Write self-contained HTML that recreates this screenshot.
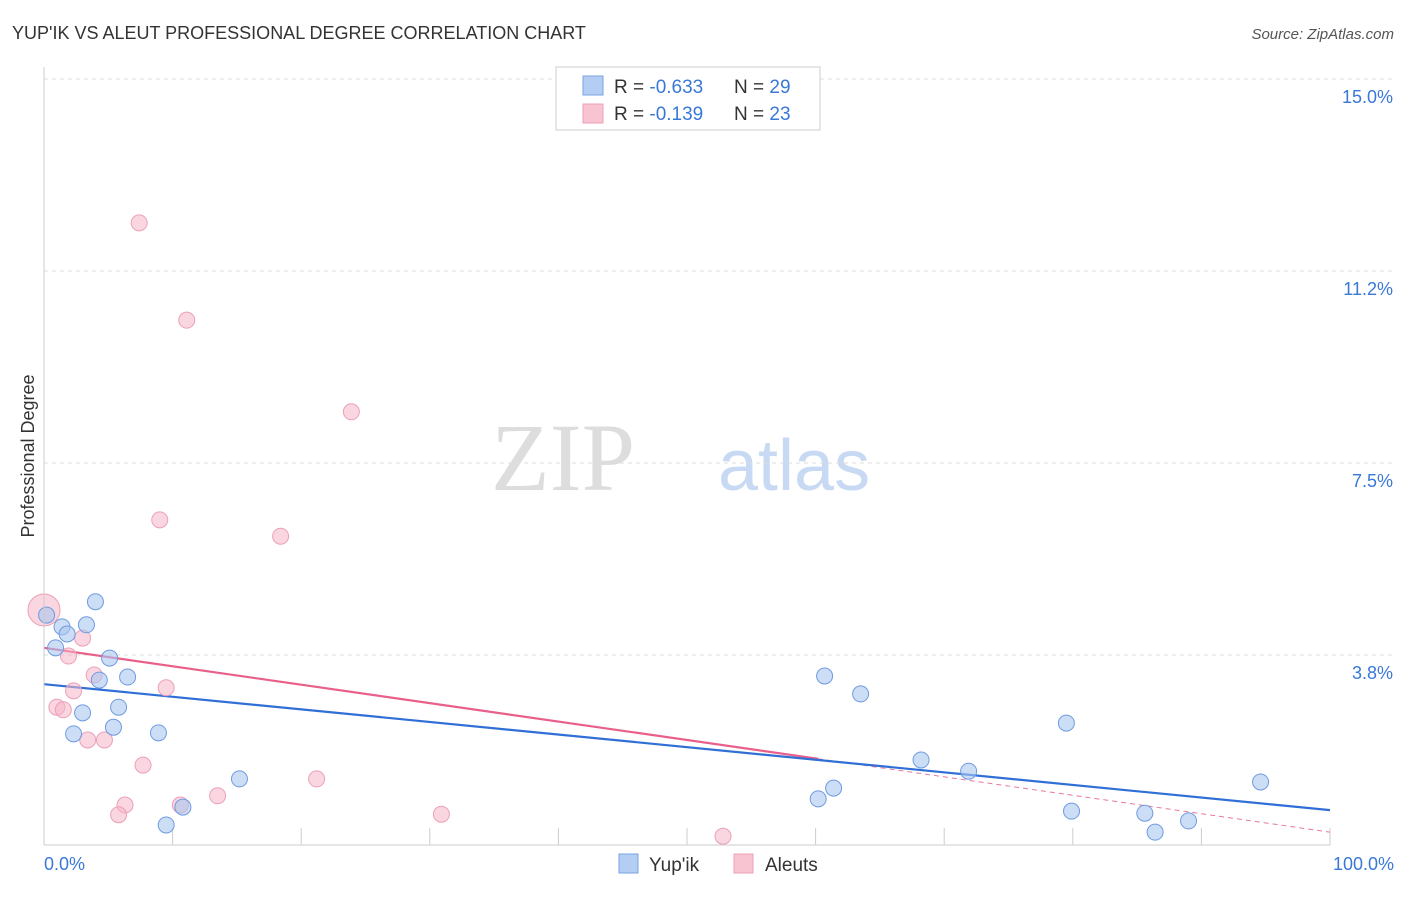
<!DOCTYPE html>
<html><head><meta charset="utf-8"><style>
body{margin:0;background:#fff;font-family:"Liberation Sans",sans-serif;}
</style></head><body>
<svg id="c" width="1406" height="892" xmlns="http://www.w3.org/2000/svg" font-family="Liberation Sans, sans-serif">
<text x="12" y="39" font-size="18" fill="#333">YUP'IK VS ALEUT PROFESSIONAL DEGREE CORRELATION CHART</text>
<text x="1394" y="39" font-size="15" fill="#555" font-style="italic" text-anchor="end">Source: ZipAtlas.com</text>
<text x="635" y="490" font-size="96" fill="#ddd" text-anchor="end" font-family="Liberation Serif, serif">ZIP</text>
<text x="718" y="490" font-size="72" fill="#c8daf3">atlas</text>
<text x="34" y="456" font-size="18" fill="#333" text-anchor="middle" transform="rotate(-90 34 456)">Professional Degree</text>
<g id="grid"></g><g id="trend"></g><g id="pts"></g>
<line x1="44" y1="67" x2="44" y2="845" stroke="#ccc"/>
<line x1="44" y1="845" x2="1330" y2="845" stroke="#ccc"/>
<text x="44" y="870" font-size="18" fill="#3a78d8">0.0%</text>
<text x="1394" y="870" font-size="18" fill="#3a78d8" text-anchor="end">100.0%</text>
<g>
<rect x="556" y="67" width="264" height="63" fill="#fff" stroke="#ccc"/>
<rect x="583" y="76" width="20" height="19" fill="#b4cdf3" stroke="#7aa3e0"/>
<rect x="583" y="104" width="20" height="19" fill="#f9c4d2" stroke="#eda0b6"/>
<text x="614" y="93" font-size="19" fill="#333">R = <tspan fill="#3a78d8">-0.633</tspan><tspan x="734">N = </tspan><tspan fill="#3a78d8">29</tspan></text>
<text x="614" y="120" font-size="19" fill="#333">R = <tspan fill="#3a78d8"> -0.139</tspan><tspan x="734">N = </tspan><tspan fill="#3a78d8">23</tspan></text>
</g>
<g>
<rect x="619" y="854" width="19" height="19" fill="#b4cdf3" stroke="#7aa3e0"/>
<text x="649" y="871" font-size="19" fill="#333">Yup'ik</text>
<rect x="734" y="854" width="19" height="19" fill="#f9c4d2" stroke="#eda0b6"/>
<text x="765" y="871" font-size="19" fill="#333">Aleuts</text>
</g>
</svg>
<script>
const yTicks=[3.8,7.5,11.2,15.0];
const yTickVals=[3.75,7.5,11.25,15.0];
const xTicks=[10,20,30,40,50,60,70,80,90,100];
const blueX=[0.2,0.9,1.4,1.8,3.3,4.0,3.0,2.3,4.3,5.1,5.8,5.4,6.5,8.9,9.5,10.8,15.2,60.2,61.4,60.7,63.5,68.2,71.9,79.5,79.9,85.6,86.4,89.0,94.6];
const blueY=[4.53,3.89,4.30,4.16,4.34,4.79,2.62,2.21,3.26,3.69,2.73,2.34,3.32,2.23,0.43,0.78,1.33,0.94,1.15,3.34,2.99,1.70,1.48,2.42,0.70,0.66,0.29,0.51,1.27];
const pinkX=[0,1.0,1.5,1.9,3.0,2.3,3.4,4.7,3.9,7.4,11.1,23.9,9.0,18.4,9.5,7.7,6.3,5.8,10.6,13.5,21.2,30.9,52.8];
const pinkY=[4.63,2.73,2.68,3.73,4.08,3.05,2.09,2.09,3.36,12.19,10.29,8.50,6.39,6.07,3.11,1.60,0.82,0.63,0.82,1.00,1.33,0.64,0.21];
const blueTrend=[3.18,0.72];
const pinkTrend=[3.89,0.29];
const pinkSolidEnd=60.2;
const NS='http://www.w3.org/2000/svg';
const X=v=>44+v*12.86, Y=v=>847-v*51.2;
function mk(t,a,p){const e=document.createElementNS(NS,t);for(const k in a)e.setAttribute(k,a[k]);document.getElementById(p).appendChild(e);return e;}
yTicks.forEach((t,i)=>{const y=Y(yTickVals[i]);
 const l=mk('line',{x1:44,x2:1394,y1:y,y2:y,stroke:'#ddd','stroke-dasharray':'4,4'},'grid');
 
 
 const tx=mk('text',{x:1393,y:y+24,'font-size':18,fill:'#3a78d8','text-anchor':'end'},'grid');tx.textContent=t.toFixed(1)+'%';
 
 });
xTicks.forEach(t=>{const x=X(t);const l=mk('line',{x1:x,x2:x,y1:828,y2:845,stroke:'#ccc'},'grid');
 
 });
function tl(a,b,x0,x1,col,dash,name){const f=x=>a+(b-a)*x/100;const l=mk('line',{x1:X(x0),y1:Y(f(x0)),x2:X(x1),y2:Y(f(x1)),stroke:col,'stroke-width':dash?1:2.2},'trend');if(dash)l.setAttribute('stroke-dasharray','5,4');
 
 }
tl(pinkTrend[0],pinkTrend[1],pinkSolidEnd,100,'#e8789a',true,'aleut-trend-dashed');
tl(pinkTrend[0],pinkTrend[1],0,pinkSolidEnd,'#e8608a',false,'aleut-trend');
tl(blueTrend[0],blueTrend[1],0,100,'#2f6fd6',false,'yupik-trend');
pinkX.forEach((x,i)=>{const c=mk('circle',{cx:X(x),cy:Y(pinkY[i]),r:i==0?16:8,fill:'rgba(246,180,200,0.55)',stroke:'#eba0b8','stroke-width':1},'pts');
 
 });
blueX.forEach((x,i)=>{const c=mk('circle',{cx:X(x),cy:Y(blueY[i]),r:8,fill:'rgba(170,198,240,0.6)',stroke:'#6f9be0','stroke-width':1},'pts');
 
 });
</script>
</body></html>
